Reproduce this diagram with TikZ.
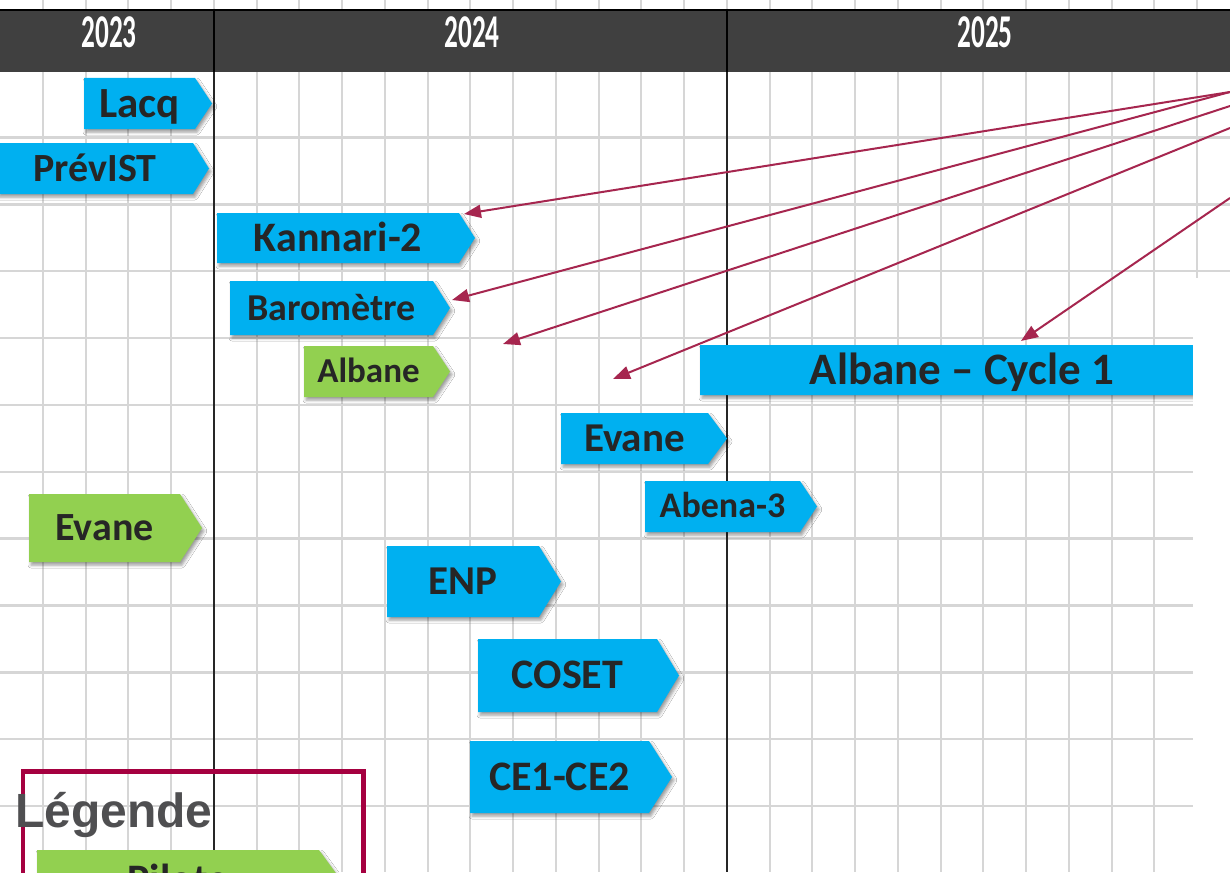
\documentclass[tikz,border=0pt]{standalone}
\usepackage{fontspec}
\setmainfont{Carlito}
\newfontfamily\legfont{Liberation Sans}
\usetikzlibrary{arrows.meta,shadows.blur}
\definecolor{bluebox}{HTML}{00B0F0}
\definecolor{greenbox}{HTML}{92D050}
\definecolor{textdark}{HTML}{262626}
\definecolor{headerbg}{HTML}{404040}
\definecolor{gridgray}{HTML}{D6D6D6}
\definecolor{arrowcol}{HTML}{A6264F}
\definecolor{legendcol}{HTML}{A50040}
\definecolor{legtext}{HTML}{4F4F51}
\tikzset{
  gridv/.style={draw=gridgray, line width=2pt},
  gridh/.style={draw=gridgray, line width=2.5pt},
  yearline/.style={draw=black!85, line width=1.5pt},
  tagshadow/.style={blur shadow={shadow xshift=2pt, shadow yshift=-3pt, shadow blur radius=3pt, shadow opacity=40}},
  tagtext/.style={inner sep=0pt, text depth=0pt, text=textdark},
  yeartext/.style={inner sep=0pt, text depth=0pt, text=white, font=\fontsize{47}{47}\selectfont\bfseries},
  conn/.style={draw=arrowcol, line width=2pt, -{Triangle[length=17pt,width=13pt]}},
  legendbox/.style={draw=legendcol, line width=4.5pt}
}
% #1 name, #2 left, #3 top, #4 tip start, #5 tip point, #6 bottom, #7 colour, #8 font size, #9 text
\newcommand\tagbox[9]{%
  \fill[#7, tagshadow] (#2,#3) -- (#4,#3) -- (#5,{(#3+#6)/2}) -- (#4,#6) -- (#2,#6) -- cycle;
  \pgfmathsetmacro\capH{0.632*#8}%
  \node[tagtext, font=\fontsize{#8}{#8}\selectfont\bfseries, text height=\capH pt] (#1) at ({(#2+#4)/2},{(#3+#6)/2}) {#9};
}
\begin{document}
\begin{tikzpicture}[x=1pt,y=-1pt]
\useasboundingbox (0,0) rectangle (1230,872);
\clip (0,0) rectangle (1230,872);
\fill[white] (0,0) rectangle (1230,872);
% grid
\foreach \k in {1,...,28} \draw[gridv] ({42.75*\k},0) -- ({42.75*\k},872);
\foreach \j in {0,...,10} \draw[gridh] (0,{137.5+66.85*\j}) -- (1230,{137.5+66.85*\j});
% year separators
\draw[yearline] (213.75,9) -- (213.75,872);
\draw[yearline] (726.75,9) -- (726.75,872);
% header
\fill[headerbg] (0,9) rectangle (1230,72);
\draw[black, line width=2.5pt] (0,10) -- (1230,10);
\draw[black, line width=1.5pt] (213.75,9) -- (213.75,72);
\draw[black, line width=1.5pt] (726.75,9) -- (726.75,72);
\node[yeartext, text height=29.7pt] (y2023) at (109,33) {\scalebox{0.58}[1]{2023}};
\node[yeartext, text height=29.7pt] (y2024) at (472,33) {\scalebox{0.58}[1]{2024}};
\node[yeartext, text height=29.7pt] (y2025) at (985,33) {\scalebox{0.58}[1]{2025}};
% tasks
\tagbox{lacq}{84}{78}{195}{212}{129}{bluebox}{43}{Lacq}
\tagbox{previst}{-3}{143}{193}{209}{194}{bluebox}{40}{PrévIST}
\tagbox{kannari}{217}{213}{459}{475}{263}{bluebox}{42}{Kannari-2}
\tagbox{barometre}{230}{281}{433}{450}{335}{bluebox}{38}{Baromètre}
\tagbox{albane}{304}{346}{433}{450}{397}{greenbox}{35}{Albane}
\tagbox{albanecycle}{700}{345}{1224}{1224}{395}{bluebox}{45}{Albane – Cycle 1}
\tagbox{evaneb}{561}{413}{708}{727}{464}{bluebox}{41}{Evane}
\tagbox{abena}{645}{481}{800}{817}{532}{bluebox}{36}{Abena-3}
\tagbox{evaneg}{29}{494}{180}{202}{562}{greenbox}{40}{Evane}
\tagbox{enp}{387}{546}{539}{561}{617}{bluebox}{41}{ENP}
\tagbox{coset}{478}{639}{657}{679}{712}{bluebox}{42}{COSET}
\tagbox{ce}{470}{741}{649}{672}{813}{bluebox}{42}{CE1-CE2}
% blank right margin
\fill[white] (1193,278) rectangle (1231,873);
% arrows
\coordinate (s1) at (1230,92);
\coordinate (s2) at (1230,92);
\coordinate (s3) at (1230,106);
\coordinate (s4) at (1230,128);
\coordinate (s5) at (1230,198);
\coordinate (e1) at (464,214);
\coordinate (e2) at (452,300);
\coordinate (e3) at (503,344);
\coordinate (e4) at (613,379);
\coordinate (e5) at (1021,341);
\draw[conn] (s1) -- (e1);
\draw[conn] (s2) -- (e2);
\draw[conn] (s3) -- (e3);
\draw[conn] (s4) -- (e4);
\draw[conn] (s5) -- (e5);
% legend
\draw[legendbox] (23,771.5) rectangle (363.7,910);
\node[anchor=base west, inner sep=0pt, text=legtext, font=\legfont\bfseries\fontsize{48}{48}\selectfont] (legend) at (15,827) {Légende};
\tagbox{pilote}{37}{850}{319}{341}{910}{greenbox}{42}{Pilote}
\end{tikzpicture}
\end{document}
